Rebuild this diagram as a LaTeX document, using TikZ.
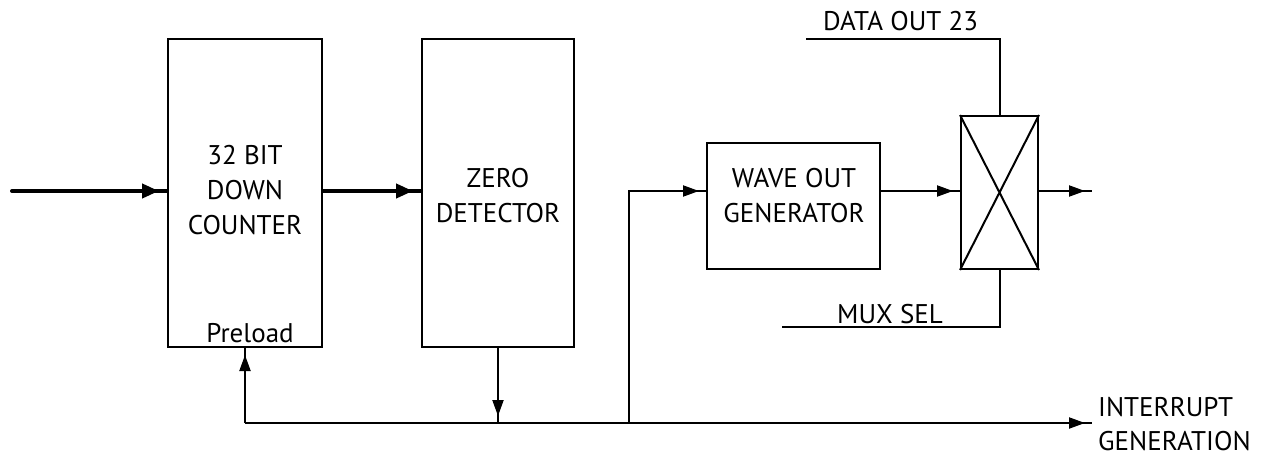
\documentclass[tikz,border=0pt]{standalone}
\usepackage{fontspec}
\setmainfont{PT Sans}
\usetikzlibrary{arrows.meta,decorations.markings}
\begin{document}
\begin{tikzpicture}[x=1pt,y=-1pt,
  box/.style={draw, line width=2pt, inner sep=0pt},
  lbl/.style={font=\fontsize{27}{35}\selectfont, align=center, inner sep=0pt},
  wire/.style={line width=2pt},
  bus/.style={line width=4pt, line cap=round},
  tipmark/.style={postaction={decorate}, decoration={markings, mark=at position -7pt with {\arrow{Triangle[length=16pt,width=11pt]}}}},
  bigtip/.style={postaction={decorate}, decoration={markings, mark=at position -8pt with {\arrow{Triangle[length=17pt,width=14pt]}}}}]
\useasboundingbox (0,0) rectangle (1267,458);
% boxes
\node[box, minimum width=154pt, minimum height=308pt] (counter) at (245,193) {};
\node[box, minimum width=152pt, minimum height=308pt] (zero) at (498,193) {};
\node[box, minimum width=173pt, minimum height=126pt] (wave) at (793.5,206) {};
\node[box, minimum width=77pt, minimum height=153pt] (mux) at (999.5,192.5) {};
\draw[wire] (mux.north west) -- (mux.south east) (mux.south west) -- (mux.north east);
% texts
\node[lbl] (countertxt) at (245,190) {32 BIT\\DOWN\\COUNTER};
\node[lbl] (zerotxt) at (498,196) {ZERO\\DETECTOR};
\node[lbl] (wavetxt) at (794,196) {WAVE OUT\\GENERATOR};
\node[lbl, anchor=base] (preload) at (250,342) {Preload};
\node[lbl, anchor=base west] (dataout) at (823,30) {DATA OUT 23};
\node[lbl, anchor=base west] (muxsel) at (837,323) {MUX SEL};
\node[lbl, anchor=north west, align=left, font=\fontsize{27}{34}\selectfont] (intrtxt) at (1098,397) {INTERRUPT\\GENERATION};
% coordinates
\coordinate (in) at (12,191);
\coordinate (out) at (1092,191);
\coordinate (dstart) at (806,39);
\coordinate (sstart) at (782,327);
\coordinate (bl) at (245,423);
\coordinate (br) at (629,423);
\coordinate (intr) at (1092,423);
% connectors
\draw[bus,bigtip] (in) -- (in -| counter.west);
\draw[bus,bigtip] (counter.east |- in) -- (zero.west |- in);
\draw[wire,tipmark] (wave.east |- in) -- (mux.west |- in);
\draw[wire,tipmark] (mux.east |- out) -- (out);
\draw[wire] (dstart) -| (mux.north);
\draw[wire] (sstart) -| (mux.south);
\draw[wire,tipmark] (bl) -- (counter.south);
\draw[wire,tipmark] (bl) -- (intr);
\draw[wire,tipmark] (zero.south) -- (zero.south |- bl);
\draw[wire,tipmark] (br) |- (wave.west |- in);
\end{tikzpicture}
\end{document}
